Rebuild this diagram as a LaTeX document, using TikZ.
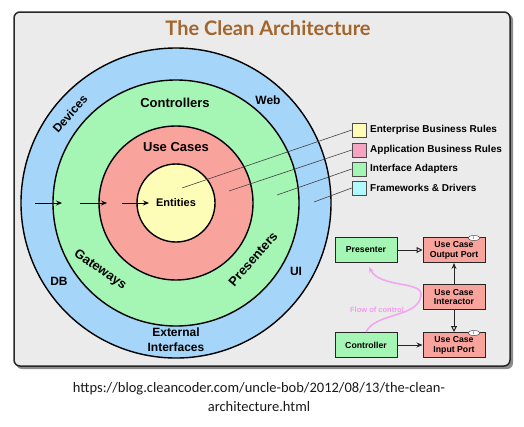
\documentclass[tikz,border=0pt]{standalone}
\usepackage{fontspec}
\setmainfont{Liberation Sans}
\newfontfamily\titlefont{Lato}
\newfontfamily\capfont{Carlito}
\usetikzlibrary{arrows.meta,shapes.geometric}
\definecolor{panelgray}{HTML}{EBEBEB}
\definecolor{fwblue}{HTML}{A6D5FA}
\definecolor{iagreen}{HTML}{A5F5B5}
\definecolor{ucred}{HTML}{F9A39D}
\definecolor{entyellow}{HTML}{FDFDB8}
\definecolor{legcyan}{HTML}{B2F8FF}
\definecolor{legpink}{HTML}{F7A4C2}
\definecolor{titlebrown}{HTML}{A2652B}
\definecolor{flowpink}{HTML}{F29CF0}
\begin{document}
\begin{tikzpicture}[x=1pt,y=-1pt,
  ring/.style={circle,draw=black,line width=1.4pt,inner sep=0pt},
  lbl/.style={font=\bfseries\fontsize{13}{15}\selectfont},
  olbl/.style={font=\bfseries\fontsize{12}{15}\selectfont},
  leg/.style={rectangle,draw=black!70,line width=.6pt,minimum size=14pt,inner sep=0pt},
  legtxt/.style={anchor=west,inner sep=0pt,font=\bfseries\fontsize{10}{11}\selectfont},
  lead/.style={draw=black!75,line width=.6pt},
  box/.style={rectangle,draw=black!85,line width=1pt,minimum width=62pt,minimum height=25pt,inner sep=1pt,align=center,font=\bfseries\fontsize{8.7}{9.8}\selectfont},
  tag/.style={ellipse,draw=black!70,fill=white,line width=.5pt,minimum width=12pt,minimum height=5pt,inner sep=0pt,font=\fontsize{4}{4}\selectfont},
  flowarr/.style={line width=1pt,draw=black!85},
  >={Stealth[length=6pt,width=5pt,inset=2pt]}]
\useasboundingbox (0,0) rectangle (524,426);
\fill[black!45,rounded corners=6pt] (16,14) rectangle (513,369);
\draw[fill=panelgray,draw=black!85,line width=1.5pt,rounded corners=6pt] (14,12) rectangle (510,366);
\node[text=titlebrown,font=\titlefont\bfseries\fontsize{20}{22}\selectfont] (title) at (268,28) {The Clean Architecture};
\node[ring,fill=fwblue,minimum size=310pt] (fw) at (176,203) {};
\node[ring,fill=iagreen,minimum size=246pt] (ia) at (176,203) {};
\node[ring,fill=ucred,minimum size=154pt] (uc) at (176,203) {};
\node[ring,fill=entyellow,minimum size=78pt,font=\bfseries\fontsize{11}{12}\selectfont] (ent) at (176,203) {Entities};
\node[olbl,rotate=48] (dev) at (70,114) {Devices};
\node[olbl] (web) at (268,100) {Web};
\node[lbl] (ctl) at (175,103) {Controllers};
\node[lbl] (use) at (176,147) {Use Cases};
\node[lbl,rotate=-35] (gw) at (100,270) {Gateways};
\node[lbl,rotate=49] (prs) at (253,259) {Presenters};
\node[olbl] (db) at (59,281) {DB};
\node[olbl] (ui) at (296,271) {UI};
\node[olbl,align=center] (ext) at (176,340) {External\\Interfaces};
\coordinate (a0) at (35,203);
\coordinate (a1) at (62,203);
\coordinate (a2) at (80,203);
\coordinate (a3) at (107,203);
\coordinate (a4) at (122,203);
\coordinate (a5) at (149,203);
\draw[->,line width=.9pt] (a0) -- (a1);
\draw[->,line width=.9pt] (a2) -- (a3);
\draw[->,line width=.9pt] (a4) -- (a5);
\node[leg,fill=entyellow] (l1) at (359,130) {};
\node[leg,fill=legpink] (l2) at (359,150) {};
\node[leg,fill=iagreen] (l3) at (359,169) {};
\node[leg,fill=legcyan] (l4) at (359,188) {};
\node[legtxt] (t1) at (370,130) {Enterprise Business Rules};
\node[legtxt] (t2) at (370,150) {Application Business Rules};
\node[legtxt] (t3) at (370,169) {Interface Adapters};
\node[legtxt] (t4) at (370,188) {Frameworks \& Drivers};
\coordinate (p1) at (182,188);
\coordinate (p2) at (229,191);
\coordinate (p3) at (277,195);
\coordinate (p4) at (314,202);
\draw[lead] (p1) -- (l1.west);
\draw[lead] (p2) -- (l2.west);
\draw[lead] (p3) -- (l3.west);
\draw[lead] (p4) -- (l4.west);
\node[box,fill=iagreen] (pres) at (366,250) {Presenter};
\node[box,fill=ucred] (outp) at (454,250) {Use Case\\Output Port};
\node[box,fill=ucred] (intr) at (454,297) {Use Case\\Interactor};
\node[box,fill=iagreen] (ctrl) at (366,345) {Controller};
\node[box,fill=ucred] (inp) at (454,345) {Use Case\\Input Port};
\node[tag] (otag) at (474,238) {I};
\node[tag] (itag) at (474,333) {I};
\draw[flowarr,-{Triangle[open,length=6pt,width=6pt]}] (pres) -- (outp);
\draw[flowarr,->] (intr) -- (outp);
\draw[flowarr,-{Triangle[open,length=6pt,width=6pt]}] (intr) -- (inp);
\draw[flowarr,->] (ctrl) -- (inp);
\coordinate (fc) at (369,267);
\draw[flowpink,line width=1.6pt,opacity=.85,->] (ctrl.north) .. controls (376,312) and (419,318) .. (421,295) .. controls (423,281) and (380,288) .. (fc);
\node[text=flowpink,font=\bfseries\fontsize{7.5}{8}\selectfont] (flow) at (377,310) {Flow of control};
\node[font=\capfont\fontsize{14.5}{19}\selectfont,align=center,text=black!90] (url) at (259,397) {https://blog.cleancoder.com/uncle-bob/2012/08/13/the-clean-\\architecture.html};
\end{tikzpicture}
\end{document}
